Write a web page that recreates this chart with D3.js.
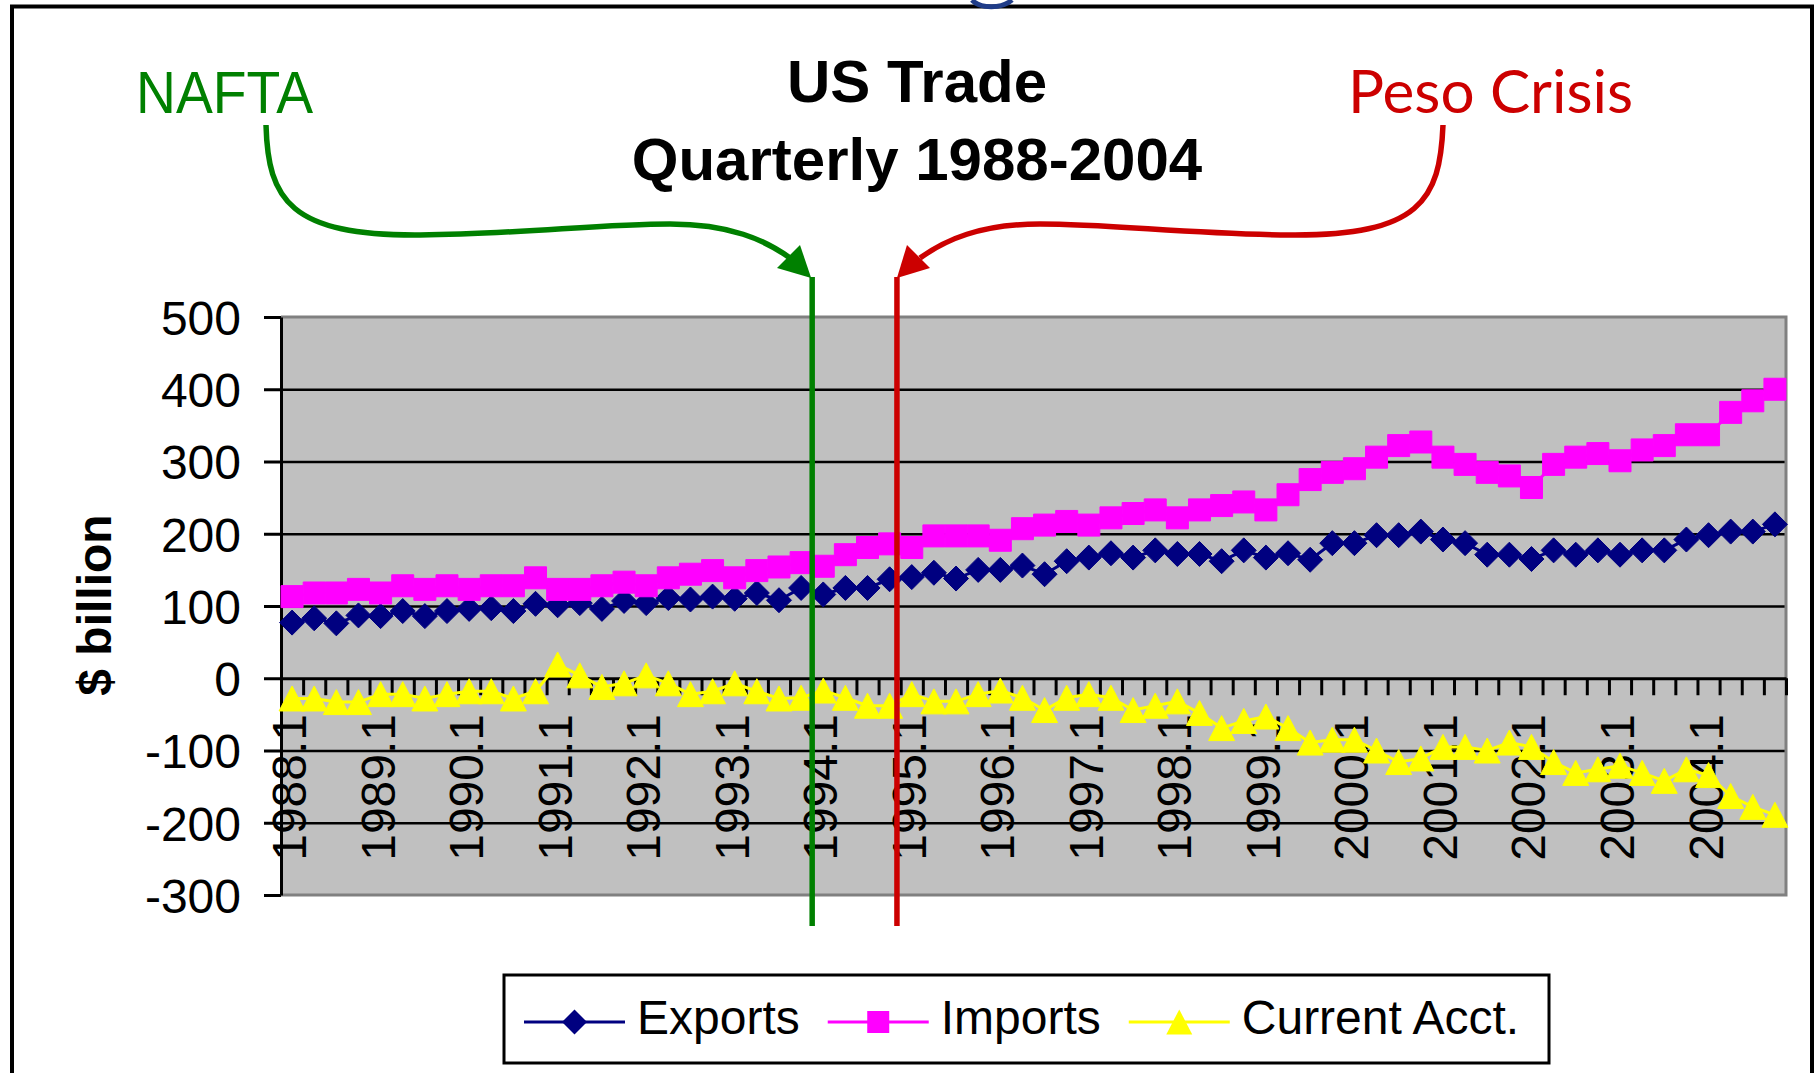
<!DOCTYPE html>
<html>
<head>
<meta charset="utf-8">
<script src="https://cdn.jsdelivr.net/npm/d3@7"></script>
<style>
  body { margin: 0; background: #fff; }
  svg { display: block; font-family: "Liberation Sans", Arial, sans-serif; }
</style>
</head>
<body>
<script>
let years = [1988, 1989, 1990, 1991, 1992, 1993, 1994, 1995, 1996, 1997, 1998, 1999, 2000, 2001, 2002, 2003, 2004];
let qtrs = [1, 2, 3, 4];
let quarters = years.flatMap((yr) => qtrs.map((q) => yr + "." + q));

// $ billion
let exportsData = [77, 83, 76, 87, 86, 93, 86, 93, 96, 97, 93, 103, 101, 104, 96, 107,
  104, 111, 109, 113, 110, 118, 108, 125, 116, 125, 125, 137, 140, 146, 138, 150,
  150, 156, 144, 162, 167, 173, 167, 177, 172, 172, 162, 177, 167, 173, 164, 187,
  187, 198, 198, 203, 192, 187, 171, 171, 165, 177, 171, 177, 171, 177, 177, 192,
  198, 203, 203, 213];
let importsData = [113, 118, 118, 123, 118, 128, 123, 128, 123, 128, 128, 139, 123, 123, 128, 133,
  128, 139, 144, 149, 139, 149, 154, 160, 155, 171, 181, 186, 181, 197, 197, 197,
  191, 207, 212, 217, 212, 222, 228, 233, 222, 233, 239, 244, 233, 254, 275, 285,
  290, 306, 322, 327, 306, 296, 285, 280, 264, 296, 306, 311, 301, 316, 322, 337,
  337, 368, 384, 400];
let currentAcct = [-28, -28, -33, -33, -22, -22, -28, -22, -18, -18, -28, -18, 19, 4, -12, -7,
  4, -7, -22, -18, -7, -18, -28, -27, -17, -27, -38, -38, -22, -32, -32, -22,
  -17, -27, -44, -27, -22, -27, -44, -38, -32, -48, -69, -59, -53, -69, -89, -85,
  -85, -100, -116, -111, -95, -95, -100, -89, -95, -116, -131, -126, -121, -131, -142, -126,
  -134, -163, -178, -189];

let yTicks = [500, 400, 300, 200, 100, 0, -100, -200, -300];
let gridTicks = [400, 300, 200, 100, -100, -200];
let seriesNames = ["Exports", "Imports", "Current Acct."];
let seriesColors = ["#000080", "#ff00ff", "#ffff00"];

let width = 1820,
  height = 1073;
let plot = { left: 281, right: 1786, top: 317, bottom: 895 };

let x = d3.scaleBand().domain(quarters).range([plot.left, plot.right]);
let xi = d3.scaleLinear().domain([0, quarters.length]).range([plot.left, plot.right]);
let y = d3.scaleLinear().domain([-300, 500]).range([plot.bottom, plot.top]);
let cx = (q) => x(q) + x.bandwidth() / 2;

let svg = d3.select("body").append("svg").attr("width", width).attr("height", height);

// outer frame
svg.append("rect")
  .attr("x", 12).attr("y", 6.5)
  .attr("width", 1800).attr("height", 1100)
  .attr("fill", "#fff").attr("stroke", "#000").attr("stroke-width", 4);

// bit of the slide heading that shows above the frame
svg.append("path")
  .attr("d", "M972,0C980,9 1002,9 1012,0")
  .attr("fill", "none").attr("stroke", "#1f3c88").attr("stroke-width", 5);

// plot area
svg.append("rect")
  .attr("x", plot.left).attr("y", plot.top)
  .attr("width", plot.right - plot.left).attr("height", plot.bottom - plot.top)
  .attr("fill", "#c0c0c0");

// gridlines
svg.append("g")
  .attr("transform", "translate(" + plot.left + ",0)")
  .call(d3.axisLeft(y).tickValues(gridTicks).tickSize(-(plot.right - plot.left)).tickFormat(""))
  .call((g) => g.select(".domain").remove())
  .selectAll("line").attr("stroke", "#000").attr("stroke-width", 2.5);

// plot border (top, right, bottom)
svg.append("path")
  .attr("d", "M" + plot.left + "," + plot.top + "H" + plot.right + "V" + plot.bottom + "H" + plot.left)
  .attr("fill", "none").attr("stroke", "#808080").attr("stroke-width", 3);

// category labels, every first quarter
svg.append("g")
  .selectAll("text")
  .data(quarters.filter((q) => q.endsWith(".1")))
  .enter()
  .append("text")
  .attr("transform", (d) => "translate(" + (cx(d) + 14) + ",714) rotate(-90)")
  .attr("text-anchor", "end")
  .attr("font-size", 48)
  .text((d) => d);

// x axis on zero line, a tick between each quarter
svg.append("g")
  .attr("transform", "translate(0," + y(0) + ")")
  .call(d3.axisBottom(xi).tickValues(d3.range(1, quarters.length + 1)).tickSize(17).tickSizeOuter(0).tickFormat(""))
  .call((g) => g.selectAll("line, path").attr("stroke", "#000").attr("stroke-width", 3));

// y axis
let yAxis = svg.append("g")
  .attr("transform", "translate(" + plot.left + ",0)")
  .call(d3.axisLeft(y).tickValues(yTicks).tickSize(17).tickSizeOuter(0).tickPadding(23).tickFormat((d) => String(d)));
yAxis.selectAll("line, path").attr("stroke", "#000").attr("stroke-width", 3);
yAxis.selectAll("text")
  .attr("font-size", 48)
  .attr("font-family", "Liberation Sans, Arial, sans-serif")
  .attr("fill", "#000")
  .attr("dy", "0.36em");

svg.append("text")
  .attr("transform", "translate(111,605) rotate(-90)")
  .attr("text-anchor", "middle")
  .attr("font-size", 48)
  .attr("font-weight", "bold")
  .text("$ billion");

// marker shapes
let diamond = "M0,-12.5L12.5,0L0,12.5L-12.5,0Z";
let square = "M-11,-11H11V11H-11Z";
let triangle = "M0,-12.5L13,12.5L-13,12.5Z";
let shapes = [diamond, square, triangle];

let line = d3.line().x((d, i) => cx(quarters[i])).y((d) => y(d));

[exportsData, importsData, currentAcct].forEach(function (vals, s) {
  let g = svg.append("g");
  g.append("path")
    .datum(vals)
    .attr("d", line)
    .attr("fill", "none")
    .attr("stroke", seriesColors[s])
    .attr("stroke-width", 3);
  g.selectAll("path.mk")
    .data(vals)
    .enter()
    .append("path")
    .attr("class", "mk")
    .attr("d", shapes[s])
    .attr("stroke-linejoin", "round")
    .attr("stroke", seriesColors[s])
    .attr("stroke-width", 1)
    .attr("fill", seriesColors[s])
    .attr("transform", (d, i) => "translate(" + cx(quarters[i]) + "," + y(d) + ")");
});

// title
let title = svg.append("text")
  .attr("text-anchor", "middle")
  .attr("font-size", 60)
  .attr("font-weight", "bold");
title.append("tspan").attr("x", 917).attr("y", 102).text("US Trade");
title.append("tspan").attr("x", 917).attr("y", 180).text("Quarterly 1988-2004");

// NAFTA (Jan 1994) and Peso crisis (Dec 1994) markers
let naftaX = x("1994.1");
let pesoX = x("1994.4") + 0.83 * x.bandwidth();

svg.append("line")
  .attr("x1", naftaX).attr("x2", naftaX).attr("y1", 277).attr("y2", 926)
  .attr("stroke", "#008000").attr("stroke-width", 5.5);
svg.append("line")
  .attr("x1", pesoX).attr("x2", pesoX).attr("y1", 277).attr("y2", 926)
  .attr("stroke", "#cc0000").attr("stroke-width", 5.5);

svg.append("path")
  .attr("d", "M266,125C268,200 290,236 420,235C520,234 600,224 670,224C730,224 765,240 790,258")
  .attr("fill", "none").attr("stroke", "#008000").attr("stroke-width", 5.5);
svg.append("path")
  .attr("d", "M" + (naftaX - 1) + ",278L777,268L800,245Z")
  .attr("fill", "#008000");

svg.append("path")
  .attr("d", "M1443,125C1440,200 1420,236 1290,235C1190,234 1110,224 1040,224C980,224 945,240 920,258")
  .attr("fill", "none").attr("stroke", "#cc0000").attr("stroke-width", 5.5);
svg.append("path")
  .attr("d", "M" + pesoX + ",278L930,268L907,245Z")
  .attr("fill", "#cc0000");

svg.append("text")
  .attr("x", 136).attr("y", 113)
  .attr("font-size", 59)
  .attr("fill", "#008000")
  .attr("textLength", 177)
  .attr("lengthAdjust", "spacingAndGlyphs")
  .text("NAFTA");

svg.append("text")
  .attr("x", 1348).attr("y", 113)
  .attr("font-family", "Lato, 'Open Sans', sans-serif")
  .attr("font-size", 60)
  .attr("fill", "#cc0000")
  .attr("textLength", 285)
  .attr("lengthAdjust", "spacingAndGlyphs")
  .text("Peso Crisis");

// legend
let legend = svg.append("g");
legend.append("rect")
  .attr("x", 504).attr("y", 975)
  .attr("width", 1045).attr("height", 88)
  .attr("fill", "#fff").attr("stroke", "#000").attr("stroke-width", 3);

let lx = 524;
seriesNames.forEach(function (name, s) {
  legend.append("line")
    .attr("x1", lx).attr("x2", lx + 101).attr("y1", 1022).attr("y2", 1022)
    .attr("stroke", seriesColors[s]).attr("stroke-width", 3);
  legend.append("path")
    .attr("d", shapes[s])
    .attr("fill", seriesColors[s])
    .attr("transform", "translate(" + (lx + 50.5) + ",1022)");
  let t = legend.append("text")
    .attr("x", lx + 113).attr("y", 1034)
    .attr("font-size", 48)
    .text(name);
  lx += 113 + t.node().getComputedTextLength() + 28;
});
</script>
</body>
</html>
